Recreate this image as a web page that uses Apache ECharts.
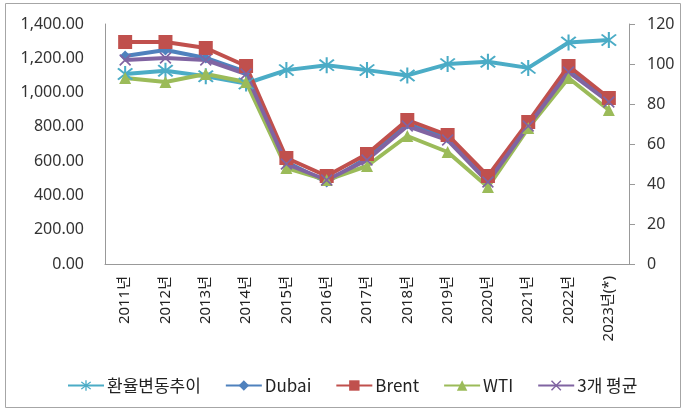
<!DOCTYPE html>
<html>
<head>
<meta charset="utf-8">
<script src="https://cdn.jsdelivr.net/npm/echarts@6/dist/echarts.min.js"></script>
<style>
  html, body { margin: 0; padding: 0; background: #fff; }
  #chart { width: 683px; height: 411px; }
</style>
</head>
<body>
<div id="chart"></div>
<script>
const years = ["2011년", "2012년", "2013년", "2014년", "2015년", "2016년", "2017년",
  "2018년", "2019년", "2020년", "2021년", "2022년", "2023년(*)"];
// 환율 (왼쪽 축)
const exchangeRate = [1108, 1127, 1095, 1053, 1131, 1160, 1131, 1100, 1166, 1180, 1144, 1292, 1306];
// 유가 (오른쪽 축)
const dubai = [104, 107, 103, 96, 51, 41, 53, 70, 63, 42, 69, 97, 82];
const brent = [111, 111, 108, 99, 53, 44, 55, 72, 64.5, 44, 71, 99, 83];
const wti = [93, 91, 95, 91, 48, 42, 49, 64, 56, 38.5, 68, 93, 77];
const avg3 = [102, 103, 102, 95, 50, 42, 52, 69, 62, 41, 69, 96, 81];

const leftTicks = [0, 200, 400, 600, 800, 1000, 1200, 1400];
const rightTicks = [0, 20, 40, 60, 80, 100, 120];

const FONT = "'Noto Sans', 'Noto Sans CJK KR', sans-serif";

// 별표 / 엑스 마커
const starPath = "path://M-0.8,-8L0.8,-8L0.8,8L-0.8,8Z" +
  "M-6.2,-5L-5,-6.2L6.2,5L5,6.2Z" +
  "M5,-6.2L6.2,-5L-5,6.2L-6.2,5Z";
const crossPath = "path://M-6.2,-5L-5,-6.2L6.2,5L5,6.2Z" +
  "M5,-6.2L6.2,-5L-5,6.2L-6.2,5Z";

const chart = echarts.init(document.getElementById("chart"));

const lineSeries = (name, data, color, symbol, size, yIdx) => ({
  name: name,
  type: "line",
  data: data,
  yAxisIndex: yIdx,
  symbol: symbol,
  symbolSize: size,
  showAllSymbol: true,
  itemStyle: { color: color },
  lineStyle: { color: color, width: 4 },
  animation: false
});

const option = {
  backgroundColor: "#fff",
  textStyle: { fontFamily: FONT },
  graphic: [{
    type: "rect",
    shape: { x: 5.5, y: 3.5, width: 675, height: 404 },
    style: { fill: "none", stroke: "#a6a6a6", lineWidth: 1 },
    silent: true
  }],
  grid: { left: 105, right: 54, top: 24, height: 240 },
  legend: {
    top: 372,
    left: 62,
    itemWidth: 36,
    itemHeight: 13,
    itemGap: 24,
    textStyle: { fontFamily: "'Noto Sans CJK KR', sans-serif", fontSize: 17, color: "#222", padding: [0, 0, 0, -2] },
    data: ["환율변동추이", "Dubai", "Brent", "WTI", "3개 평균"]
  },
  xAxis: {
    type: "category",
    data: years,
    boundaryGap: true,
    axisLine: { lineStyle: { color: "#999" } },
    axisTick: { show: false },
    axisLabel: { rotate: 90, margin: 12, fontSize: 15, color: "#222", fontFamily: FONT }
  },
  yAxis: [{
    type: "value",
    min: leftTicks[0],
    max: leftTicks[leftTicks.length - 1],
    interval: 200,
    splitLine: { show: false },
    axisLine: { show: true, lineStyle: { color: "#999" } },
    axisTick: { show: false },
    axisLabel: {
      margin: 21, fontSize: 16, color: "#333", fontFamily: FONT,
      formatter: v => v.toLocaleString("en-US", { minimumFractionDigits: 2, maximumFractionDigits: 2 })
    }
  }, {
    type: "value",
    position: "right",
    min: rightTicks[0],
    max: rightTicks[rightTicks.length - 1],
    interval: 20,
    splitLine: { show: false },
    axisLine: { show: true, lineStyle: { color: "#999" } },
    axisTick: { show: true, length: 6, lineStyle: { color: "#999" } },
    axisLabel: { margin: 18, fontSize: 16, color: "#333", fontFamily: FONT }
  }],
  series: [
    lineSeries("환율변동추이", exchangeRate, "#4BACC6", starPath, 16, 0),
    lineSeries("Dubai", dubai, "#4F81BD", "diamond", 11, 1),
    lineSeries("Brent", brent, "#C0504D", "rect", 14, 1),
    lineSeries("WTI", wti, "#9BBB59", "triangle", 12, 1),
    lineSeries("3개 평균", avg3, "#8064A2", crossPath, 12, 1)
  ]
};

chart.setOption(option);
</script>
</body>
</html>
